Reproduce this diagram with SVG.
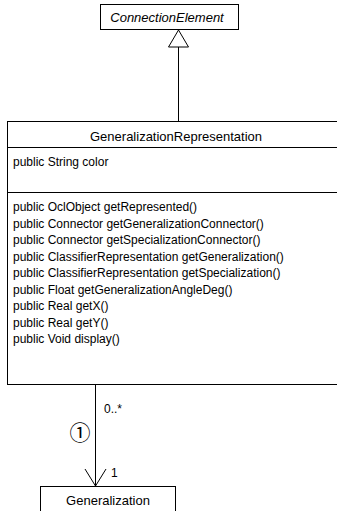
<svg xmlns="http://www.w3.org/2000/svg" width="337" height="511" viewBox="0 0 337 511">
<style>
text{font-family:"Liberation Sans",Arial,sans-serif;font-size:12px;fill:#000}
.name{font-size:13px;text-anchor:middle}
.box{fill:#fff;stroke:#000;stroke-width:1}
.ln{stroke:#000;stroke-width:1;fill:none}
</style>
<rect width="337" height="511" fill="#fff"/>
<g id="ConnectionElement">
<rect class="box" x="100.5" y="4.5" width="138" height="25"/>
<text class="name" x="167" y="22" font-style="italic">ConnectionElement</text>
</g>
<g id="GeneralizationRepresentation">
<rect class="box" x="7.5" y="121.5" width="337" height="263"/>
<line class="ln" x1="7.5" y1="147.5" x2="345" y2="147.5"/>
<line class="ln" x1="7.5" y1="192.5" x2="345" y2="192.5"/>
<text class="name" x="176" y="141">GeneralizationRepresentation</text>
<text x="13" y="166">public String color</text>
<text x="13" y="211">public OclObject getRepresented()</text>
<text x="13" y="227.5">public Connector getGeneralizationConnector()</text>
<text x="13" y="244">public Connector getSpecializationConnector()</text>
<text x="13" y="260.5">public ClassifierRepresentation getGeneralization()</text>
<text x="13" y="277">public ClassifierRepresentation getSpecialization()</text>
<text x="13" y="293.5">public Float getGeneralizationAngleDeg()</text>
<text x="13" y="310">public Real getX()</text>
<text x="13" y="326.5">public Real getY()</text>
<text x="13" y="343">public Void display()</text>
</g>
<g id="Generalization">
<rect class="box" x="40.5" y="486.5" width="135" height="30"/>
<text class="name" x="108" y="505">Generalization</text>
</g>
<g id="connectors">
<line class="ln" x1="178.5" y1="47" x2="178.5" y2="121.5"/>
<polygon points="178.5,30 168.5,47 188.5,47" fill="#fff" stroke="#000" stroke-width="1"/>
<line class="ln" x1="95.5" y1="384.5" x2="95.5" y2="486"/>
<polyline class="ln" points="85,469 95.5,486 106,469"/>
<text x="104" y="413">0..*</text>
<text x="80" y="440" style="font-family:'Noto Sans CJK JP',sans-serif;font-size:21px;text-anchor:middle">①</text>
<text x="111" y="477">1</text>
</g>
</svg>
